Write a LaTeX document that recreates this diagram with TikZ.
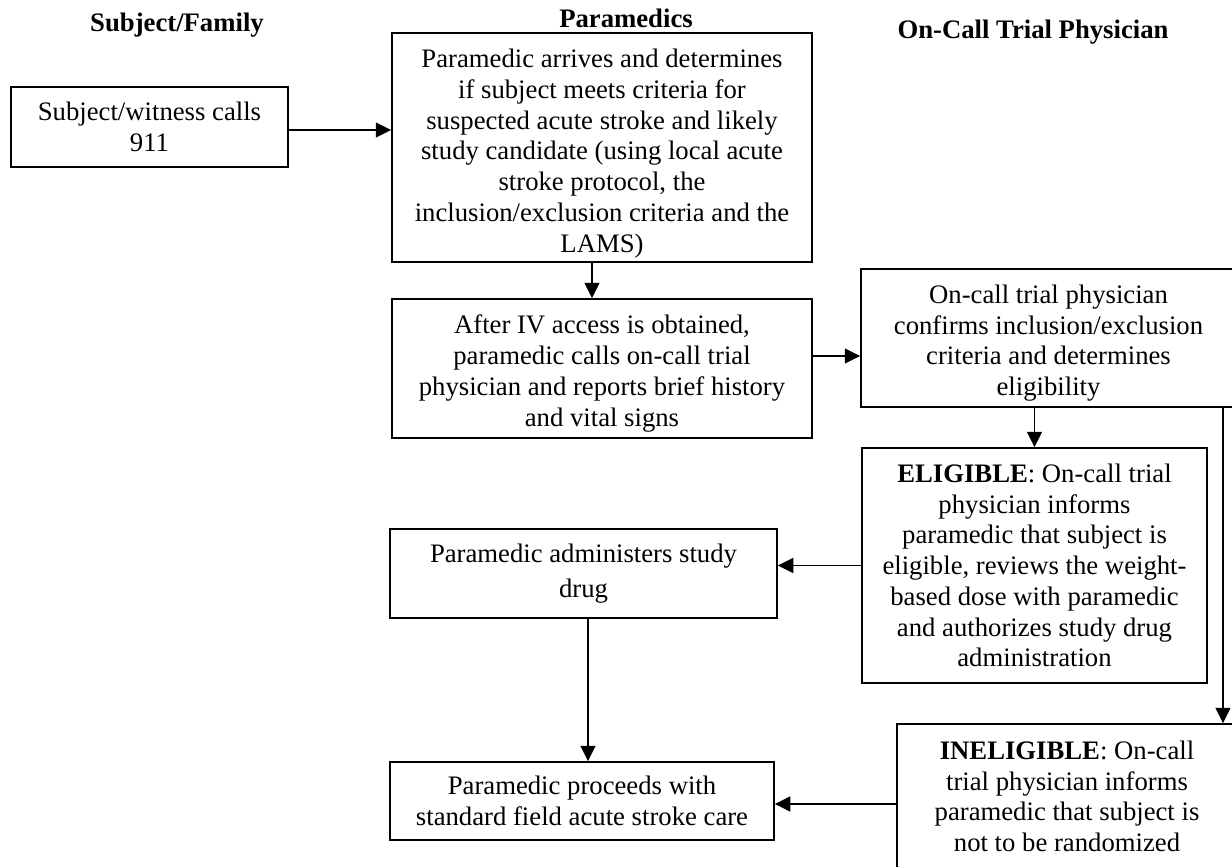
\documentclass[tikz,border=0pt]{standalone}
\usepackage{fontspec}
\setmainfont{Liberation Serif}
\usetikzlibrary{arrows.meta}
\begin{document}
\begin{tikzpicture}[x=1pt,y=-1pt,
  box/.style={draw, line width=1.5pt, inner sep=0pt, align=center,
    font=\fontsize{26.7}{30.7}\selectfont, anchor=center},
  txt/.style={align=center, inner sep=0pt, font=\fontsize{26.7}{30.7}\selectfont},
  hdr/.style={font=\fontsize{26.7}{30.7}\selectfont\bfseries},
  arr/.style={line width=1.5pt, -{Triangle[length=15.5pt,width=15pt]}}]
\useasboundingbox (0,0) rectangle (1232,867);
\clip (0,0) rectangle (1232,867);
% headers
\node[hdr] (h1) at (177,25) {Subject/Family};
\node[hdr] (h2) at (626,18) {Paramedics};
\node[hdr] (h3) at (1033,32) {On-Call Trial Physician};
% boxes
\node[box, minimum width=277pt, minimum height=80pt] (A) at (149.5,127)
  {Subject/witness calls\\911};
\node[box, minimum width=420pt, minimum height=229pt,
  label={[txt, name=Bt, yshift=-6pt]center:{Paramedic arrives and determines\\if subject meets criteria for\\suspected acute stroke and likely\\study candidate (using local acute\\stroke protocol, the\\inclusion/exclusion criteria and the\\LAMS)}}] (B) at (602,147.5) {};
\node[box, minimum width=420pt, minimum height=139pt,
  label={[txt, name=Ct, yshift=-5pt]center:{After IV access is obtained,\\paramedic calls on-call trial\\physician and reports brief history\\and vital signs}}] (C) at (602,368.5) {};
\node[box, minimum width=375pt, minimum height=138pt,
  label={[txt, name=Dt, yshift=-5pt]center:{On-call trial physician\\confirms inclusion/exclusion\\criteria and determines\\eligibility}}] (D) at (1048.5,338) {};
\node[box, minimum width=345pt, minimum height=235pt] (E) at (1034.5,565.5)
  {\textbf{ELIGIBLE}: On-call trial\\physician informs\\paramedic that subject is\\eligible, reviews the weight-\\based dose with paramedic\\and authorizes study drug\\administration};
\node[box, minimum width=387pt, minimum height=89pt] (F) at (583.5,573.5)
  {Paramedic administers study\\[4pt]drug};
\node[box, minimum width=384pt, minimum height=78pt] (G) at (582,801)
  {Paramedic proceeds with\\standard field acute stroke care};
\node[box, minimum width=340pt, minimum height=145pt] (H) at (1067,796.5)
  {\textbf{INELIGIBLE}: On-call\\trial physician informs\\paramedic that subject is\\not to be randomized};
% connectors
\coordinate (rx) at (1223,0);
\draw[arr] ([yshift=-3pt]A.east) -- ([yshift=-3pt]A.east -| B.west);
\draw[arr] ([xshift=-10pt]B.south) -- ([xshift=-10pt]B.south |- C.north);
\draw[arr] ([yshift=12.5pt]C.east) -- ([yshift=12.5pt]C.east -| D.west);
\draw[arr] (E.north |- D.south) -- (E.north);
\draw[arr] (E.west) -- (E.west -| F.east);
\draw[arr] ([xshift=4.5pt]F.south) -- ([xshift=4.5pt]F.south |- G.north);
\draw[arr] ([yshift=-7.5pt]H.west) -- ([yshift=-7.5pt]H.west -| G.east);
\draw[arr] (rx |- D.south) -- (rx |- H.north);
\end{tikzpicture}
\end{document}
